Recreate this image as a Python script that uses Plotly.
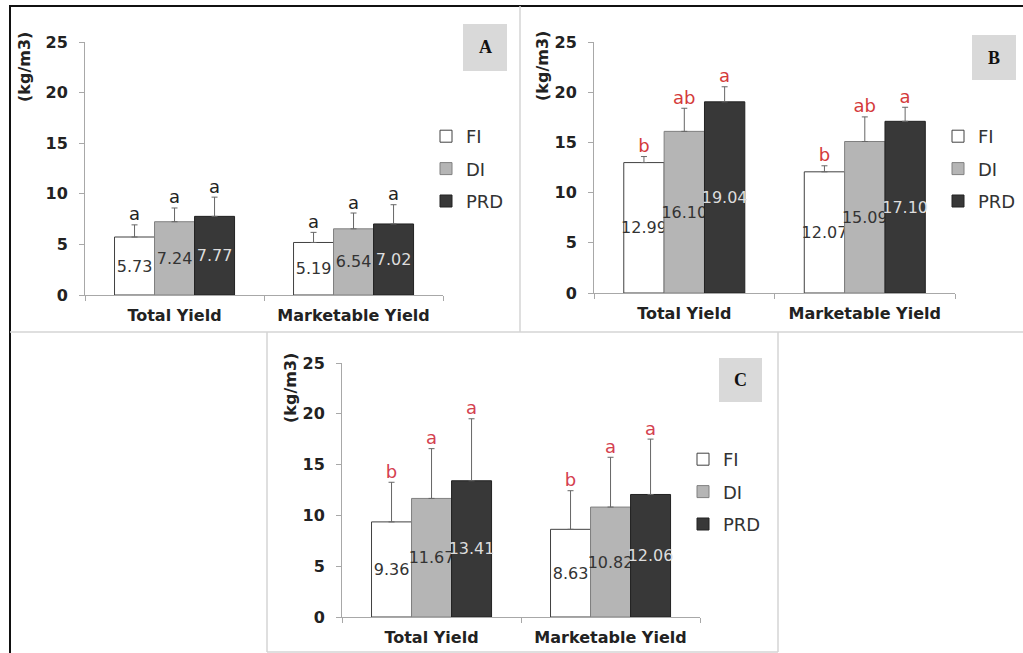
import plotly.graph_objects as go

W, H = 1023, 653

categories = ["Total Yield", "Marketable Yield"]
treatments = ["FI", "DI", "PRD"]
y_ticks = [0, 5, 10, 15, 20, 25]

# Panel A
A_FI = [5.73, 5.19]
A_DI = [7.24, 6.54]
A_PRD = [7.77, 7.02]
A_FI_err = [1.2, 1.0]
A_DI_err = [1.36, 1.56]
A_PRD_err = [1.9, 1.9]
A_FI_let = ["a", "a"]
A_DI_let = ["a", "a"]
A_PRD_let = ["a", "a"]

# Panel B
B_FI = [12.99, 12.07]
B_DI = [16.10, 15.09]
B_PRD = [19.04, 17.10]
B_FI_err = [0.6, 0.6]
B_DI_err = [2.3, 2.45]
B_PRD_err = [1.5, 1.4]
B_FI_let = ["b", "b"]
B_DI_let = ["ab", "ab"]
B_PRD_let = ["a", "a"]

# Panel C
C_FI = [9.36, 8.63]
C_DI = [11.67, 10.82]
C_PRD = [13.41, 12.06]
C_FI_err = [3.9, 3.8]
C_DI_err = [4.9, 4.9]
C_PRD_err = [6.1, 5.45]
C_FI_let = ["b", "b"]
C_DI_let = ["a", "a"]
C_PRD_let = ["a", "a"]


def px(x):
    return x / W


def py(y):
    return 1 - y / H


FONT = "DejaVu Sans, Arial, sans-serif"
fills = {"FI": "#ffffff", "DI": "#b5b5b5", "PRD": "#383838"}
outlines = {"FI": "#404040", "DI": "#808080", "PRD": "#222222"}
txtcol = {"FI": "#333333", "DI": "#333333", "PRD": "#dddddd"}
BW = 0.2235
offsets = {"FI": -0.335, "DI": -0.335 + BW, "PRD": -0.335 + 2 * BW}

panels = [
    dict(name="A", vals=[A_FI, A_DI, A_PRD], errs=[A_FI_err, A_DI_err, A_PRD_err],
         lets=[A_FI_let, A_DI_let, A_PRD_let], letcol="#222222",
         xdom=(85, 443), ydom=(295, 42), legend=(426, 118),
         box=(463, 24, 507, 71), ytitle=(25, 67)),
    dict(name="B", vals=[B_FI, B_DI, B_PRD], errs=[B_FI_err, B_DI_err, B_PRD_err],
         lets=[B_FI_let, B_DI_let, B_PRD_let], letcol="#d43a3a",
         xdom=(594, 955), ydom=(293, 42), legend=(938, 118),
         box=(972, 35, 1016, 80), ytitle=(542, 66)),
    dict(name="C", vals=[C_FI, C_DI, C_PRD], errs=[C_FI_err, C_DI_err, C_PRD_err],
         lets=[C_FI_let, C_DI_let, C_PRD_let], letcol="#d4404f",
         xdom=(342, 700), ydom=(617, 363), legend=(683, 441),
         box=(719, 358, 762, 402), ytitle=(290, 388)),
]

fig = go.Figure()
xs = list(range(len(categories)))
layout = {}
shapes = []
annotations = []

for i, p in enumerate(panels):
    sfx = "" if i == 0 else str(i + 1)
    xa, ya = "x" + sfx, "y" + sfx
    lg = "legend" + sfx
    for t, vals, errs, lets in zip(treatments, p["vals"], p["errs"], p["lets"]):
        fig.add_trace(go.Bar(
            x=xs, y=vals, name=t, xaxis=xa, yaxis=ya,
            width=BW, offset=offsets[t],
            marker=dict(color=fills[t], line=dict(color=outlines[t], width=1)),
            text=[f"{v:.2f}" for v in vals], textposition="inside",
            insidetextanchor="middle", textangle=0, constraintext="none",
            textfont=dict(family=FONT, size=16, color=txtcol[t]),
            error_y=dict(type="data", symmetric=False, array=errs,
                         arrayminus=[0] * len(errs), color="#666666",
                         thickness=1, width=3),
            legend=lg, legendgroup=p["name"] + t, showlegend=True,
            hoverinfo="skip",
        ))
        fig.add_trace(go.Scatter(
            x=[xx + offsets[t] + BW / 2 for xx in xs],
            y=[v + e for v, e in zip(vals, errs)],
            mode="text", text=lets, textposition="top center",
            textfont=dict(family=FONT, size=18, color=p["letcol"]),
            xaxis=xa, yaxis=ya, showlegend=False, hoverinfo="skip",
        ))
    layout["xaxis" + sfx] = dict(
        domain=[px(p["xdom"][0]), px(p["xdom"][1])], range=[-0.5, 1.5],
        anchor=ya, tickmode="array", tickvals=xs, ticktext=categories,
        ticks="", showline=True, linecolor="#a8a8a8", linewidth=1,
        showgrid=False, zeroline=False, fixedrange=True, automargin=False,
        tickfont=dict(family=FONT, size=16, color="#222222", weight="bold"),
        ticklabelstandoff=6,
        minor=dict(tickmode="array", tickvals=[-0.5, 0.5, 1.5], ticks="outside",
                   ticklen=5, tickcolor="#a8a8a8", tickwidth=1, showgrid=False),
    )
    layout["yaxis" + sfx] = dict(
        domain=[py(p["ydom"][0]), py(p["ydom"][1])], range=[0, 25],
        anchor=xa, tickmode="array", tickvals=y_ticks, ticks="outside",
        ticklen=5, tickcolor="#a8a8a8", showline=True, linecolor="#a8a8a8",
        linewidth=1, showgrid=False, zeroline=False, fixedrange=True, automargin=False,
        tickfont=dict(family=FONT, size=16, color="#222222", weight="bold"),
        ticklabelstandoff=8,
    )
    layout[lg] = dict(
        x=px(p["legend"][0]), y=py(p["legend"][1]), xanchor="left", yanchor="top",
        bgcolor="rgba(0,0,0,0)", tracegroupgap=6, traceorder="grouped",
        font=dict(family=FONT, size=18, color="#333333"), itemclick=False,
    )
    bx0, by0, bx1, by1 = p["box"]
    shapes.append(dict(type="rect", xref="paper", yref="paper",
                       x0=px(bx0), x1=px(bx1), y0=py(by1), y1=py(by0),
                       fillcolor="#d9d9d9", line=dict(width=0), layer="below"))
    annotations.append(dict(xref="paper", yref="paper", x=px((bx0 + bx1) / 2),
                            y=py((by0 + by1) / 2), text="<b>" + p["name"] + "</b>",
                            showarrow=False, xanchor="center", yanchor="middle",
                            font=dict(family="Liberation Serif, Times New Roman, serif",
                                      size=18, color="#111111")))
    annotations.append(dict(xref="paper", yref="paper", x=px(p["ytitle"][0]),
                            y=py(p["ytitle"][1]), text="<b>(kg/m3)</b>", textangle=-90,
                            showarrow=False, xanchor="center", yanchor="middle",
                            font=dict(family=FONT, size=16, color="#222222")))


def line(x0, y0, x1, y1, color, width):
    shapes.append(dict(type="line", xref="paper", yref="paper",
                       x0=px(x0), y0=py(y0), x1=px(x1), y1=py(y1),
                       line=dict(color=color, width=width)))


line(9, 6, 1023, 6, "#111111", 2)
line(10, 6, 10, 653, "#111111", 2)
line(10, 332, 1023, 332, "#d4d4d4", 1.5)
line(520, 6, 520, 332, "#d4d4d4", 1.5)
line(267, 332, 267, 652, "#d4d4d4", 1.5)
line(778, 332, 778, 652, "#d4d4d4", 1.5)
line(267, 652, 778, 652, "#d4d4d4", 1.5)

fig.update_layout(
    width=W, height=H, margin=dict(l=0, r=0, t=0, b=0, autoexpand=False),
    paper_bgcolor="white", plot_bgcolor="rgba(0,0,0,0)",
    barmode="overlay", shapes=shapes, annotations=annotations,
    **layout,
)

fig.write_html(
    "out.html",
    config={"displayModeBar": False},
    post_script=(
        "document.body.style.margin='0px';"
        "document.documentElement.style.overflow='hidden';"
        "var gd=document.getElementById('{plot_id}');"
        "gd.style.position='fixed';gd.style.top='0px';gd.style.left='0px';"
    ),
)
